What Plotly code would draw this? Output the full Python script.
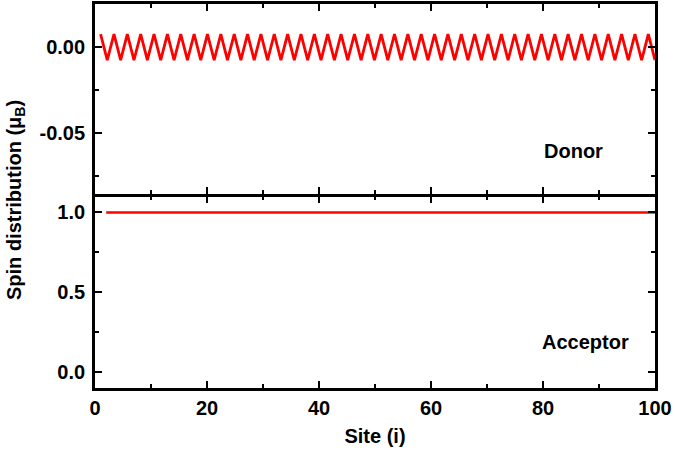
import plotly.graph_objects as go
from plotly.subplots import make_subplots

# donor chain: spin alternates between +/- small values along the chain
donor_site = [1.00, 2.19, 3.39, 4.58, 5.77, 6.96, 8.16, 9.35, 10.54, 11.73,
              12.93, 14.12, 15.31, 16.51, 17.70, 18.89, 20.08, 21.28, 22.47, 23.66,
              24.86, 26.05, 27.24, 28.43, 29.63, 30.82, 32.01, 33.20, 34.40, 35.59,
              36.78, 37.98, 39.17, 40.36, 41.55, 42.75, 43.94, 45.13, 46.33, 47.52,
              48.71, 49.90, 51.10, 52.29, 53.48, 54.67, 55.87, 57.06, 58.25, 59.45,
              60.64, 61.83, 63.02, 64.22, 65.41, 66.60, 67.80, 68.99, 70.18, 71.37,
              72.57, 73.76, 74.95, 76.14, 77.34, 78.53, 79.72, 80.92, 82.11, 83.30,
              84.49, 85.69, 86.88, 88.07, 89.27, 90.46, 91.65, 92.84, 94.04, 95.23,
              96.42, 97.61, 98.81, 100.00]
donor_spin = [0.0075, -0.0075, 0.0075, -0.0075, 0.0075, -0.0075, 0.0075, -0.0075, 0.0075, -0.0075,
              0.0075, -0.0075, 0.0075, -0.0075, 0.0075, -0.0075, 0.0075, -0.0075, 0.0075, -0.0075,
              0.0075, -0.0075, 0.0075, -0.0075, 0.0075, -0.0075, 0.0075, -0.0075, 0.0075, -0.0075,
              0.0075, -0.0075, 0.0075, -0.0075, 0.0075, -0.0075, 0.0075, -0.0075, 0.0075, -0.0075,
              0.0075, -0.0075, 0.0075, -0.0075, 0.0075, -0.0075, 0.0075, -0.0075, 0.0075, -0.0075,
              0.0075, -0.0075, 0.0075, -0.0075, 0.0075, -0.0075, 0.0075, -0.0075, 0.0075, -0.0075,
              0.0075, -0.0075, 0.0075, -0.0075, 0.0075, -0.0075, 0.0075, -0.0075, 0.0075, -0.0075,
              0.0075, -0.0075, 0.0075, -0.0075, 0.0075, -0.0075, 0.0075, -0.0075, 0.0075, -0.0075,
              0.0075, -0.0075, 0.0075, -0.0075]

# acceptor: the whole spin sits on the acceptor chain
acceptor_site = [2, 10, 20, 30, 40, 50, 60, 70, 80, 90, 100]
acceptor_spin = [1.0, 1.0, 1.0, 1.0, 1.0, 1.0, 1.0, 1.0, 1.0, 1.0, 1.0]

x_ticks = [0, 20, 40, 60, 80, 100]
donor_ticks = [-0.05, 0.00]
donor_tick_text = ["-0.05", "0.00"]
acceptor_ticks = [0.0, 0.5, 1.0]
acceptor_tick_text = ["0.0", "0.5", "1.0"]

RED = "#ff0000"
FONT = "Liberation Sans"
W, H = 675, 454
ML, MR, MT, MB = 95, 20, 4, 66
LW = 2.8
PH = H - MT - MB  # plot height in px

fig = make_subplots(rows=2, cols=1, shared_xaxes=True, vertical_spacing=0)

fig.add_trace(go.Scatter(x=donor_site, y=donor_spin, mode="lines",
                         line=dict(color=RED, width=2.8)), row=1, col=1)
fig.add_trace(go.Scatter(x=acceptor_site, y=acceptor_spin, mode="lines",
                         line=dict(color=RED, width=2.6)), row=2, col=1)

axis_style = dict(showline=True, linecolor="black", linewidth=LW, mirror="allticks",
                  ticks="inside", ticklen=7, tickwidth=2, tickcolor="black",
                  showgrid=False, zeroline=False, automargin=False,
                  tickfont=dict(family=FONT, size=20, color="black", weight="bold"),
                  minor=dict(ticks="inside", ticklen=4, tickwidth=2, tickcolor="black"))

fig.update_xaxes(**axis_style)
fig.update_yaxes(**axis_style)
fig.update_yaxes(ticklabelstandoff=3)

# separator sits ~195px from the top; leave a line-width gap so both frame lines overlap
bottom_top = (H - MB - 196.5) / PH
top_bottom = (H - MB - 196.5 + LW) / PH
fig.update_yaxes(domain=[top_bottom, 1], row=1, col=1)
fig.update_yaxes(domain=[0, bottom_top], row=2, col=1)

fig.update_xaxes(range=[0, 100], tickvals=x_ticks, minor_dtick=10, tick0=0)
fig.update_xaxes(showticklabels=False, row=1, col=1)
fig.update_xaxes(title=dict(text="<b>Site (i)</b>", standoff=12,
                            font=dict(family=FONT, size=20, color="black")), row=2, col=1)

fig.update_yaxes(range=[-0.085, 0.025], tickvals=donor_ticks, ticktext=donor_tick_text,
                 minor=dict(tickvals=[-0.075, -0.025]), row=1, col=1)
fig.update_yaxes(range=[-0.1, 1.1], tickvals=acceptor_ticks, ticktext=acceptor_tick_text,
                 minor=dict(tickvals=[0.25, 0.75]), row=2, col=1)

fig.add_annotation(text="<b>Donor</b>", x=85.4, y=-0.060, xref="x", yref="y",
                   showarrow=False, font=dict(family=FONT, size=20, color="black"))
fig.add_annotation(text="<b>Acceptor</b>", x=87.5, y=0.19, xref="x2", yref="y2",
                   showarrow=False, font=dict(family=FONT, size=20, color="black"))
fig.add_annotation(text="<b>Spin distribution (μ<sub>B</sub>)</b>", textangle=-90,
                   x=(15 - ML) / (W - ML - MR), y=(H - MB - 200) / PH,
                   xref="paper", yref="paper", xanchor="center", yanchor="middle",
                   showarrow=False, font=dict(family=FONT, size=20, color="black"))

fig.update_layout(width=W, height=H, showlegend=False,
                  margin=dict(l=ML, r=MR, t=MT, b=MB, autoexpand=False),
                  plot_bgcolor="white", paper_bgcolor="white")

fig.write_html("out.html", config={"displayModeBar": False},
               post_script="document.body.style.margin='0';")
